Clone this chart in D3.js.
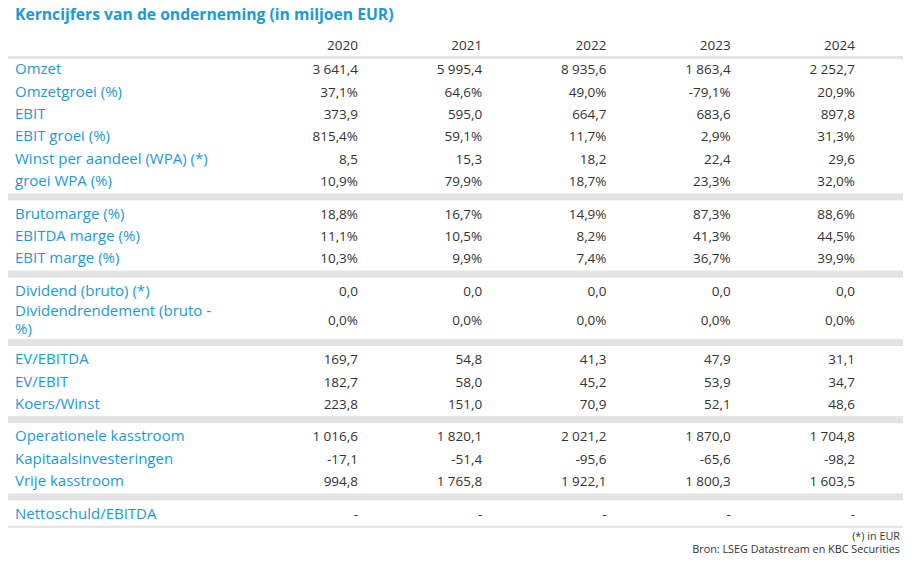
<!DOCTYPE html>
<html><head><meta charset="utf-8">
<script src="https://cdn.jsdelivr.net/npm/d3@7"></script>
<style>body{margin:0;background:#fff}</style>
</head><body>
<svg id="chart" width="916" height="561"></svg>
<script>
const title = "Kerncijfers van de onderneming (in miljoen EUR)";
const years = ["2020", "2021", "2022", "2023", "2024"];
const groups = [
  [
    ["Omzet", ["3 641,4", "5 995,4", "8 935,6", "1 863,4", "2 252,7"]],
    ["Omzetgroei (%)", ["37,1%", "64,6%", "49,0%", "-79,1%", "20,9%"]],
    ["EBIT", ["373,9", "595,0", "664,7", "683,6", "897,8"]],
    ["EBIT groei (%)", ["815,4%", "59,1%", "11,7%", "2,9%", "31,3%"]],
    ["Winst per aandeel (WPA) (*)", ["8,5", "15,3", "18,2", "22,4", "29,6"]],
    ["groei WPA (%)", ["10,9%", "79,9%", "18,7%", "23,3%", "32,0%"]]
  ],
  [
    ["Brutomarge (%)", ["18,8%", "16,7%", "14,9%", "87,3%", "88,6%"]],
    ["EBITDA marge (%)", ["11,1%", "10,5%", "8,2%", "41,3%", "44,5%"]],
    ["EBIT marge (%)", ["10,3%", "9,9%", "7,4%", "36,7%", "39,9%"]]
  ],
  [
    ["Dividend (bruto) (*)", ["0,0", "0,0", "0,0", "0,0", "0,0"]],
    ["Dividendrendement (bruto -\n%)", ["0,0%", "0,0%", "0,0%", "0,0%", "0,0%"]]
  ],
  [
    ["EV/EBITDA", ["169,7", "54,8", "41,3", "47,9", "31,1"]],
    ["EV/EBIT", ["182,7", "58,0", "45,2", "53,9", "34,7"]],
    ["Koers/Winst", ["223,8", "151,0", "70,9", "52,1", "48,6"]]
  ],
  [
    ["Operationele kasstroom", ["1 016,6", "1 820,1", "2 021,2", "1 870,0", "1 704,8"]],
    ["Kapitaalsinvesteringen", ["-17,1", "-51,4", "-95,6", "-65,6", "-98,2"]],
    ["Vrije kasstroom", ["994,8", "1 765,8", "1 922,1", "1 800,3", "1 603,5"]]
  ],
  [
    ["Nettoschuld/EBITDA", ["-", "-", "-", "-", "-"]]
  ]
];
const notes = ["(*) in EUR", "Bron: LSEG Datastream en KBC Securities"];

const blue = "#1a9ad7", dark = "#333", grey = "#e3e3e3";
const font = "'Open Sans', sans-serif";
const svg = d3.select("#chart");
const left = 8, right = 903, rowH = 22.4, dblH = 36, bandH = 10;

// column right edges
const x = d3.scalePoint().domain(years).range([358, 855]);

svg.append("text").attr("x", 15).attr("y", 20).attr("fill", blue)
  .attr("font-family", font).attr("font-size", 15.7).attr("font-weight", "bold").text(title);

svg.selectAll("text.year").data(years).enter().append("text")
  .attr("x", d => x(d)).attr("y", 50).attr("text-anchor", "end")
  .attr("fill", dark).attr("font-family", font).attr("font-size", 13.5).text(d => d);

svg.append("rect").attr("x", left).attr("y", 56).attr("width", right - left).attr("height", 3).attr("fill", grey);

let cy = 58;
groups.forEach((g, gi) => {
  if (gi > 0) {
    svg.append("rect").attr("x", left).attr("y", cy + 1).attr("width", right - left).attr("height", 7).attr("fill", grey);
    cy += bandH;
  }
  g.forEach(([label, vals]) => {
    const lines = label.split("\n");
    const h = lines.length > 1 ? dblH : rowH;
    const mid = cy + h / 2;
    const t = svg.append("text").attr("x", 15).attr("fill", blue)
      .attr("font-family", font).attr("font-size", 15);
    lines.forEach((ln, i) => {
      t.append("tspan").attr("x", 15)
        .attr("y", mid + 5 + (i - (lines.length - 1) / 2) * 18).text(ln);
    });
    svg.selectAll(null).data(vals).enter().append("text")
      .attr("x", (d, i) => x(years[i])).attr("y", mid + 5).attr("text-anchor", "end")
      .attr("fill", dark).attr("font-family", font).attr("font-size", 13.5).text(d => d);
    cy += h;
  });
});

svg.append("rect").attr("x", left).attr("y", cy + 1).attr("width", right - left).attr("height", 2).attr("fill", grey);

notes.forEach((n, i) => {
  svg.append("text").attr("x", 900).attr("y", cy + 15 + i * 13).attr("text-anchor", "end")
    .attr("fill", dark).attr("font-family", font).attr("font-size", 10.8).text(n);
});
</script>
</body></html>
